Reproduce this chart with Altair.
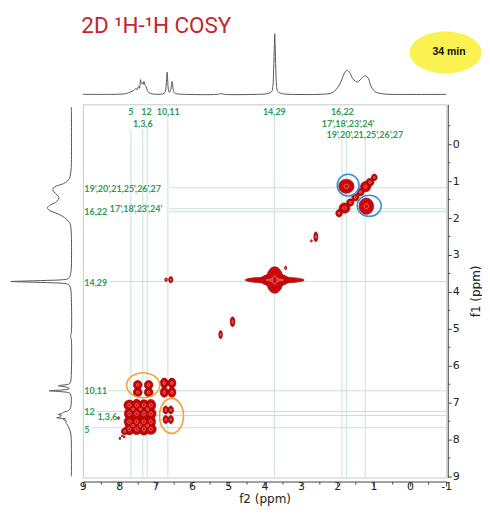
import altair as alt
import pandas as pd

# ---------------- data ----------------
TITLE = "2D ¹H-¹H COSY"
BADGE = "34 min"

# 1D 1H trace (ppm, intensity a.u.)
spec_ppm = [9.0, 8.2, 7.85, 7.75, 7.65, 7.58, 7.54, 7.51, 7.48, 7.46,
            7.44, 7.41, 7.39, 7.36, 7.34, 7.32, 7.29, 7.26, 7.23, 7.18,
            7.10, 6.95, 6.80, 6.74, 6.71, 6.69, 6.68, 6.67, 6.65, 6.62,
            6.58, 6.56, 6.545, 6.53, 6.51, 6.48, 6.40, 6.2, 5.3, 5.2,
            5.1, 4.2, 3.95, 3.85, 3.80, 3.77, 3.75, 3.73, 3.72, 3.71,
            3.69, 3.67, 3.64, 3.58, 3.48, 3.3, 2.5, 2.2, 2.12, 2.03,
            1.94, 1.86, 1.80, 1.73, 1.66, 1.58, 1.50, 1.44, 1.37, 1.29,
            1.21, 1.14, 1.07, 1.00, 0.93, 0.80, 0.70, 0.55, -1.0]
spec_int = [0, 0, 0.5, 1.5, 3, 4.5, 6, 4.5, 7, 8,
            6, 14.7, 11, 11.3, 10, 13, 9, 8, 4, 1.5,
            0.5, 0, 0.5, 2, 8, 18, 22.3, 18, 6, 2,
            5, 10, 13, 10, 4, 1.5, 0.5, 0, 0, 0.8,
            0, 0, 0.5, 1.5, 3, 8, 25, 50, 60.7, 50,
            25, 8, 3, 1.5, 0.5, 0, 0, 0.8, 2, 5,
            9.5, 16, 21.5, 24, 22, 16, 13, 12.5, 14.5, 17.5,
            18.5, 15.5, 8, 4, 2, 0.8, 0.3, 0, 0]

# 2D cross peaks: f2, f1 (ppm) and extent (ppm)
pk_f2 = [0.98, 1.10, 1.22, 1.36, 1.50, 1.64, 1.80, 1.95, 1.75, 1.20,
         2.59, 2.71, 3.72, 3.72, 3.72, 3.42, 6.58, 6.71, 4.88, 5.21,
         6.76, 6.55, 6.76, 6.55,
         7.49, 7.49, 7.19, 7.19,
         6.72, 6.58, 6.72, 6.58,
         7.72, 7.52, 7.32, 7.13, 7.72, 7.52, 7.32, 7.13,
         7.72, 7.52, 7.32, 7.13, 7.72, 7.52, 7.32, 7.13,
         7.62, 7.42, 7.22, 7.62, 7.42, 7.22, 7.85,
         7.98, 7.92, 8.02, 7.86]
pk_f1 = [0.90, 1.03, 1.15, 1.30, 1.44, 1.58, 1.73, 1.87, 1.14, 1.68,
         2.51, 2.62, 3.68, 3.68, 3.68, 3.35, 3.67, 3.67, 4.81, 5.16,
         6.47, 6.47, 6.72, 6.72,
         6.52, 6.72, 6.52, 6.72,
         7.20, 7.20, 7.46, 7.46,
         7.07, 7.07, 7.07, 7.07, 7.30, 7.30, 7.30, 7.30,
         7.52, 7.52, 7.52, 7.52, 7.72, 7.72, 7.72, 7.72,
         7.18, 7.18, 7.18, 7.62, 7.62, 7.62, 7.78,
         7.97, 7.90, 7.42, 7.93]
pk_w = [0.16, 0.22, 0.28, 0.20, 0.20, 0.20, 0.30, 0.18, 0.42, 0.40,
        0.11, 0.05, 1.62, 0.80, 0.46, 0.06, 0.12, 0.07, 0.13, 0.10,
        0.22, 0.22, 0.22, 0.22,
        0.24, 0.24, 0.24, 0.24,
        0.15, 0.15, 0.15, 0.15,
        0.30, 0.26, 0.29, 0.27, 0.27, 0.30, 0.26, 0.29,
        0.29, 0.27, 0.30, 0.26, 0.26, 0.29, 0.27, 0.30,
        0.22, 0.24, 0.20, 0.24, 0.20, 0.22, 0.18,
        0.05, 0.05, 0.05, 0.05]
pk_h = [0.18, 0.22, 0.28, 0.20, 0.20, 0.20, 0.28, 0.20, 0.38, 0.44,
        0.27, 0.06, 0.17, 0.34, 0.72, 0.10, 0.17, 0.10, 0.27, 0.22,
        0.27, 0.27, 0.27, 0.27,
        0.24, 0.24, 0.24, 0.24,
        0.22, 0.22, 0.22, 0.22,
        0.28, 0.32, 0.29, 0.31, 0.32, 0.28, 0.31, 0.29,
        0.29, 0.31, 0.28, 0.32, 0.31, 0.29, 0.32, 0.28,
        0.22, 0.20, 0.24, 0.20, 0.24, 0.22, 0.18,
        0.07, 0.05, 0.08, 0.06]

# assignment lines
vline_f2 = [7.68, 7.35, 7.23, 6.66, 3.73, 1.87, 1.75, 1.23]
vline_from = [-0.41, -0.41, -0.43, -0.81, -0.76, -0.14, -0.16, -0.14]
hline_f1 = [1.18, 1.75, 1.83, 3.72, 6.68, 7.24, 7.35, 7.68]
hline_from = [6.60, 6.63, 6.63, 8.26, 8.29, 8.65, 7.88, 8.76]

# assignment labels
top_text = ["5", "12", "10,11", "1,3,6", "14,29", "16,22",
            "17',18',23',24'", "19',20',21,25',26',27"]
top_f2 = [7.68, 7.25, 6.65, 7.35, 3.73, 1.86, 1.70, 1.24]
top_f1 = [-0.87, -0.87, -0.87, -0.55, -0.87, -0.87, -0.55, -0.24]
left_text = ["19',20',21,25',26',27", "16,22", "17',18',23',24'", "14,29",
             "10,11", "12", "1,3,6", "5"]
left_f2 = [8.96, 8.96, 8.26, 8.96, 8.96, 8.96, 8.60, 8.96]
left_f1 = [1.21, 1.84, 1.75, 3.76, 6.68, 7.26, 7.40, 7.73]

# highlight ellipses
ann_f2 = [1.70, 1.12, 7.34, 6.56]
ann_f1 = [1.11, 1.67, 6.53, 7.36]
ann_w = [0.60, 0.66, 0.91, 0.66]
ann_h = [0.59, 0.57, 0.68, 0.95]
ann_color = ["#3b8fda", "#3b8fda", "#f2a23a", "#f2a23a"]

# ---------------- styling / layout ----------------
W, H = 364.2, 374
X_DOM = [9, -1]
Y_DOM = [-1.08, 9.03]
PX_X = W / 10.0
PX_Y = H / (Y_DOM[1] - Y_DOM[0])
GREEN = "#2e9a57"
LINE_C = "#c6e2d6"
RED = "#d00a0a"
FONT = "DejaVu Sans"


def ellipse(wpx, hpx):
    if wpx >= hpx:
        r = hpx / wpx
        return f"M-1,0A1,{r:.3f} 0 1,0 1,0A1,{r:.3f} 0 1,0 -1,0Z", wpx ** 2
    r = wpx / hpx
    return f"M0,-1A{r:.3f},1 0 1,0 0,1A{r:.3f},1 0 1,0 0,-1Z", hpx ** 2


spec_df = pd.DataFrame({"ppm": spec_ppm, "inten": spec_int})

rows = []
seq = 0
for lvl, s in (("a", 1.0), ("b", 0.66), ("c", 0.3)):
    for f2, f1, w, h in zip(pk_f2, pk_f1, pk_w, pk_h):
        p, sz = ellipse(w * s * PX_X, h * s * PX_Y)
        rows.append({"f2": f2, "f1": f1, "path": p, "size": sz, "lvl": lvl, "seq": seq})
        seq += 1
pk_df = pd.DataFrame(rows)

arows = []
for f2, f1, w, h, c in zip(ann_f2, ann_f1, ann_w, ann_h, ann_color):
    p, sz = ellipse(w * PX_X, h * PX_Y)
    arows.append({"f2": f2, "f1": f1, "path": p, "size": sz, "color": c})
ann_df = pd.DataFrame(arows)

v_df = pd.DataFrame({"f2": vline_f2, "start": vline_from})
h_df = pd.DataFrame({"f1": hline_f1, "start": hline_from})
top_df = pd.DataFrame({"text": top_text, "f2": top_f2, "f1": top_f1})
left_df = pd.DataFrame({"text": left_text, "f2": left_f2, "f1": left_f1})

XS = alt.Scale(domain=X_DOM, nice=False, zero=False)
YS = alt.Scale(domain=Y_DOM, reverse=True, nice=False, zero=False)

x_axis = alt.Axis(
    title="f2 (ppm)",
    values=[9 - 0.5 * i for i in range(21)],
    labelExpr="datum.value % 1 === 0 ? '' + datum.value : ''",
    tickSize={"condition": {"test": "datum.value % 1 === 0", "value": 4.5}, "value": 2.5},
    offset=4, grid=False, labelFlush=False, labelOverlap=False,
    labelPadding=-6, titlePadding=3,
)
y_axis = alt.Axis(
    title="f1 (ppm)", orient="right",
    values=[-0.5 + 0.5 * i for i in range(20)],
    labelExpr="datum.value % 1 === 0 ? '' + datum.value : ''",
    tickSize={"condition": {"test": "datum.value % 1 === 0", "value": 3.5}, "value": 2},
    offset=1.5, grid=False, labelFlush=False, labelOverlap=False,
    labelPadding=1, titlePadding=11, titleAngle=270, titleBaseline="top",
)


def XM(field):
    return alt.X(field, type="quantitative", scale=XS, axis=x_axis, title="f2 (ppm)")


def YM(field):
    return alt.Y(field, type="quantitative", scale=YS, axis=y_axis, title="f1 (ppm)")


vr = alt.Chart(v_df).mark_rule(color=LINE_C, strokeWidth=1).encode(
    x=XM("f2"), y=YM("start"), y2=alt.value("height"),
)
hr = alt.Chart(h_df).mark_rule(color=LINE_C, strokeWidth=1).encode(
    y=YM("f1"), x=XM("start"), x2=alt.value("width"),
)
pk = alt.Chart(pk_df).mark_point(filled=True, fill=RED, opacity=1, strokeWidth=0.6).encode(
    x=XM("f2"), y=YM("f1"),
    shape=alt.Shape("path:N", scale=None),
    size=alt.Size("size:Q", scale=None),
    stroke=alt.Stroke("lvl:N", scale=alt.Scale(domain=["a", "b", "c"],
                                               range=["#8a0000", "#a80000", "#e6a3a3"]),
                      legend=None),
    order=alt.Order("seq:Q"),
)
an = alt.Chart(ann_df).mark_point(filled=False, opacity=1, strokeWidth=1.6).encode(
    x=XM("f2"), y=YM("f1"),
    shape=alt.Shape("path:N", scale=None),
    size=alt.Size("size:Q", scale=None),
    stroke=alt.Stroke("color:N", scale=None),
)
tl = alt.Chart(top_df).mark_text(font="Lato", fontSize=9, fontWeight="bold", color=GREEN,
                                 align="center", baseline="middle").encode(
    x=XM("f2"), y=YM("f1"), text="text:N",
)
ll = alt.Chart(left_df).mark_text(font="Lato", fontSize=9, fontWeight="bold", color=GREEN,
                                  align="left", baseline="middle").encode(
    x=XM("f2"), y=YM("f1"), text="text:N",
)
main = alt.layer(vr, hr, pk, an, tl, ll).properties(
    width=W, height=H,
    view=alt.ViewBackground(stroke="#c8c8c8", strokeWidth=1),
)

# top 1D trace with title and badge
top_line = alt.Chart(spec_df).mark_line(color="#555555", strokeWidth=1,
                                        interpolate="catmull-rom").encode(
    x=alt.X("ppm:Q", scale=XS, axis=None),
    y=alt.Y("inten:Q", scale=alt.Scale(domain=[-10, 85], nice=False, zero=False), axis=None),
)
title_t = alt.Chart(pd.DataFrame({"t": [TITLE]})).mark_text(
    font="Roboto", fontSize=22.5, color="#c2272d", align="left", baseline="alphabetic"
).encode(text="t:N", x=alt.value(-1.5), y=alt.value(23.5))
bp, bs = ellipse(72, 42)
badge = alt.Chart(pd.DataFrame({"t": [BADGE]})).mark_point(
    shape=bp, size=bs, filled=True, fill="#f9f250", opacity=1, strokeWidth=0
).encode(x=alt.value(363.5), y=alt.value(43))
badge_t = alt.Chart(pd.DataFrame({"t": [BADGE]})).mark_text(
    font="Liberation Sans", fontSize=10.5, fontWeight="bold", color="#111111",
    align="center", baseline="middle"
).encode(text="t:N", x=alt.value(367), y=alt.value(43))
top = alt.layer(top_line, badge, badge_t, title_t).properties(width=W, height=95)

# left 1D trace
left = alt.Chart(spec_df).mark_line(color="#555555", strokeWidth=1,
                                    interpolate="catmull-rom").encode(
    x=alt.X("inten:Q", scale=alt.Scale(domain=[-10.8, 62.5], reverse=True, nice=False, zero=False),
            axis=None),
    y=alt.Y("ppm:Q", scale=YS, axis=None),
    order=alt.Order("ppm:Q"),
).properties(width=73.3, height=H)

spacer = alt.Chart(pd.DataFrame({"a": [0]})).mark_point(opacity=0, size=1).encode(
    x=alt.value(30), y=alt.value(50)
).properties(width=73.3, height=95)

chart = alt.concat(spacer, top, left, main, columns=2, spacing=0, bounds="flush").properties(
    padding=0, background="white"
).configure_view(stroke="transparent").configure_axis(
    labelFont=FONT, labelFontSize=11, labelColor="#222222",
    titleFont=FONT, titleFontSize=12, titleFontWeight="normal", titleColor="#222222",
    domainColor="#444444", tickColor="#444444",
)

chart.save("out.html", embed_options={"renderer": "svg", "actions": False})
